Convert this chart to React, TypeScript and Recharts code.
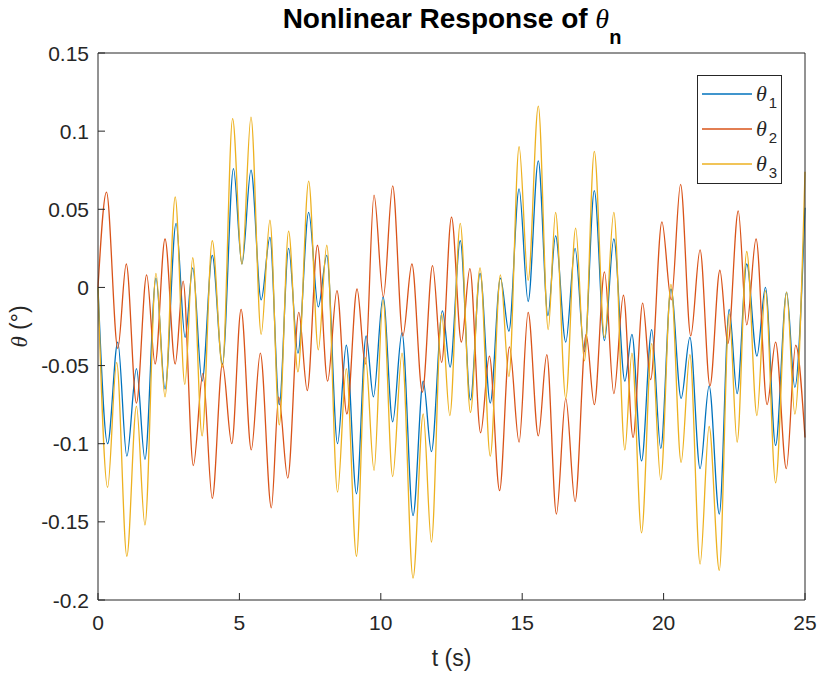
import React from 'react';
import { LineChart, Line, XAxis, YAxis, Legend } from 'recharts';

// ---------- data ----------
const theta1Time = [0,0.34,0.70,1.02,1.36,1.66,2.05,2.37,2.76,3.08,3.35,3.68,4.04,4.40,4.79,5.09,5.41,5.77,6.08,6.41,6.74,7.07,7.45,7.79,8.09,8.47,8.78,9.14,9.48,9.74,10.08,10.42,10.75,11.14,11.50,11.79,12.18,12.45,12.81,13.17,13.51,13.87,14.23,14.53,14.89,15.21,15.57,15.91,16.18,16.54,16.87,17.20,17.55,17.91,18.24,18.63,18.88,19.22,19.58,19.90,20.26,20.62,20.93,21.29,21.61,21.97,22.32,22.60,22.94,23.30,23.60,23.96,24.35,24.64,25.0];
const theta1Value = [0,-0.100,-0.035,-0.108,-0.052,-0.110,0.006,-0.065,0.041,-0.032,0.0125,-0.060,0.0205,-0.049,0.076,0.015,0.075,-0.008,0.032,-0.075,0.025,-0.042,0.048,-0.0125,0.0205,-0.100,-0.037,-0.132,-0.031,-0.070,-0.006,-0.086,-0.029,-0.146,-0.060,-0.105,-0.015,-0.051,0.030,-0.072,0.009,-0.074,0.006,-0.028,0.063,-0.009,0.081,-0.018,0.033,-0.035,0.025,-0.041,0.062,-0.034,0.031,-0.060,-0.030,-0.111,-0.027,-0.103,-0.001,-0.071,-0.032,-0.116,-0.063,-0.145,-0.014,-0.068,0.015,-0.044,0.000,-0.101,-0.003,-0.064,0.051];

const theta2Time = [0,0.30,0.70,1.00,1.36,1.72,2.02,2.37,2.73,3.01,3.37,3.71,4.04,4.40,4.73,5.06,5.42,5.74,6.13,6.39,6.71,7.10,7.40,7.76,8.12,8.45,8.80,9.16,9.45,9.76,10.09,10.42,10.78,11.10,11.47,11.83,12.15,12.50,12.85,13.15,13.53,13.84,14.20,14.55,14.89,15.21,15.57,15.87,16.21,16.54,16.87,17.26,17.55,17.91,18.24,18.58,18.92,19.26,19.54,19.94,20.27,20.60,20.96,21.29,21.64,21.99,22.27,22.64,22.94,23.27,23.66,23.96,24.34,24.67,25.0];
const theta2Value = [0,0.061,-0.039,0.015,-0.074,0.008,-0.049,0.031,-0.049,0.004,-0.114,-0.055,-0.135,-0.049,-0.100,-0.014,-0.104,-0.042,-0.141,-0.070,-0.122,-0.016,-0.066,0.027,-0.060,-0.002,-0.081,-0.001,-0.049,0.059,-0.006,0.065,-0.031,0.015,-0.067,0.014,-0.048,0.045,-0.035,0.012,-0.093,-0.044,-0.130,-0.038,-0.099,-0.016,-0.095,-0.043,-0.145,-0.071,-0.137,-0.030,-0.075,0.010,-0.068,-0.005,-0.096,-0.010,-0.059,0.042,-0.008,0.066,-0.031,0.024,-0.063,0.011,-0.036,0.049,-0.024,0.031,-0.075,-0.035,-0.116,-0.037,-0.096];

const theta3Time = [0,0.34,0.66,1.02,1.36,1.66,2.05,2.37,2.73,3.07,3.35,3.68,4.04,4.40,4.76,5.09,5.41,5.77,6.08,6.41,6.74,7.07,7.45,7.79,8.09,8.47,8.78,9.14,9.46,9.76,10.08,10.42,10.75,11.14,11.50,11.79,12.15,12.44,12.81,13.17,13.51,13.87,14.23,14.53,14.89,15.21,15.57,15.92,16.18,16.54,16.89,17.20,17.55,17.91,18.24,18.63,18.88,19.22,19.58,19.90,20.26,20.62,20.93,21.29,21.61,21.97,22.32,22.60,22.94,23.30,23.60,23.96,24.35,24.64,25.0];
const theta3Value = [0,-0.128,-0.048,-0.172,-0.076,-0.152,0.009,-0.070,0.058,-0.062,0.019,-0.095,0.030,-0.051,0.108,0.015,0.109,-0.030,0.043,-0.088,0.036,-0.054,0.068,-0.040,0.027,-0.131,-0.052,-0.172,-0.045,-0.117,-0.008,-0.121,-0.042,-0.186,-0.081,-0.163,-0.017,-0.082,0.041,-0.080,0.0125,-0.108,0.008,-0.057,0.090,0.0045,0.116,-0.027,0.048,-0.071,0.038,-0.047,0.087,-0.032,0.048,-0.104,-0.042,-0.157,-0.036,-0.123,0.002,-0.112,-0.043,-0.177,-0.089,-0.181,-0.017,-0.099,0.023,-0.082,-0.002,-0.125,-0.003,-0.081,0.074];

const seriesSubscripts = ['1', '2', '3'];
const seriesColors = ['#0072BD', '#D95319', '#EDB120'];
const xTicks = [0, 5, 10, 15, 20, 25];
const yTicks = [-0.2, -0.15, -0.1, -0.05, 0, 0.05, 0.1, 0.15];

const zip = (ts: number[], vs: number[]) => ts.map((t, i) => ({ t, v: vs[i] }));
const seriesData = [
  zip(theta1Time, theta1Value),
  zip(theta2Time, theta2Value),
  zip(theta3Time, theta3Value),
];

// ---------- styles ----------
const AXIS = '#262626';
const FONT = '"Liberation Sans", Arial, Helvetica, sans-serif';
const SERIF = '"Liberation Serif", "Times New Roman", serif';
const TICK_LEN = 7;
const W = 810;
const H = 669;

const LeftTick = (props: any) => {
  const { x, y, payload } = props;
  return (
    <g>
      <line x1={x + 9} x2={x + 9 + TICK_LEN} y1={y} y2={y} stroke={AXIS} />
      <text x={x} y={y} dy={7.5} textAnchor="end" fontSize={21} fill={AXIS} fontFamily={FONT}>
        {String(payload.value)}
      </text>
    </g>
  );
};
const RightTick = (props: any) => {
  const { x, y } = props;
  return <line x1={x} x2={x - TICK_LEN} y1={y} y2={y} stroke={AXIS} />;
};
const BottomTick = (props: any) => {
  const { x, y, payload } = props;
  return (
    <g>
      <line x1={x} x2={x} y1={y} y2={y - TICK_LEN} stroke={AXIS} />
      <text x={x} y={y} dy={29.5} textAnchor="middle" fontSize={21} fill={AXIS} fontFamily={FONT}>
        {String(payload.value)}
      </text>
    </g>
  );
};
const TopTick = (props: any) => {
  const { x, y } = props;
  return <line x1={x} x2={x} y1={y} y2={y + TICK_LEN} stroke={AXIS} />;
};

const renderLegend = (props: any) => {
  const payload = (props && props.payload) || [];
  return (
    <svg width={85} height={109} style={{ display: 'block' }}>
      <rect x={0.5} y={0.5} width={84} height={108} fill="#ffffff" stroke={AXIS} />
      {payload.map((entry: any, i: number) => (
        <g key={i}>
          <line x1={5} x2={55} y1={19 + i * 35} y2={19 + i * 35} stroke={entry.color} strokeWidth={1.3} />
          <text x={59} y={26 + i * 35} fontSize={22} fontStyle="italic" fontFamily={SERIF} fill={AXIS}>
            θ
            <tspan fontSize={15} fontStyle="normal" fontFamily={FONT} dx={2} dy={7}>
              {seriesSubscripts[i]}
            </tspan>
          </text>
        </g>
      ))}
    </svg>
  );
};

export default function App() {
  return (
    <div style={{ position: 'absolute', left: 8, top: 8, width: W, height: H, background: '#ffffff' }}>
      <LineChart width={W} height={H} margin={{ top: 44, right: 12, bottom: 0, left: 0 }}>
        <XAxis
          xAxisId="bottom"
          dataKey="t"
          type="number"
          domain={[0, 25]}
          ticks={xTicks}
          interval={0}
          height={77}
          tickSize={0}
          tickMargin={0}
          tickLine={false}
          axisLine={{ stroke: AXIS }}
          tick={<BottomTick />}
          label={{ value: 't (s)', position: 'insideBottom', offset: 11, fontSize: 23, fill: AXIS, fontFamily: FONT }}
        />
        <XAxis
          xAxisId="top"
          orientation="top"
          dataKey="t"
          type="number"
          domain={[0, 25]}
          ticks={xTicks}
          interval={0}
          height={1}
          tickSize={0}
          tickMargin={0}
          tickLine={false}
          axisLine={{ stroke: AXIS }}
          tick={<TopTick />}
        />
        <YAxis
          yAxisId="left"
          type="number"
          domain={[-0.2, 0.15]}
          ticks={yTicks}
          interval={0}
          width={90}
          tickSize={0}
          tickMargin={9}
          tickLine={false}
          axisLine={{ stroke: AXIS }}
          tick={<LeftTick />}
        />
        <YAxis
          yAxisId="right"
          orientation="right"
          type="number"
          domain={[-0.2, 0.15]}
          ticks={yTicks}
          interval={0}
          width={1}
          tickSize={0}
          tickMargin={0}
          tickLine={false}
          axisLine={{ stroke: AXIS }}
          tick={<RightTick />}
        />
        {seriesData.map((d, i) => (
          <Line
            key={i}
            xAxisId="bottom"
            yAxisId="left"
            data={d}
            dataKey="v"
            name={'θ' + seriesSubscripts[i]}
            type="monotone"
            stroke={seriesColors[i]}
            strokeWidth={1.3}
            dot={false}
            activeDot={false}
            isAnimationActive={false}
          />
        ))}
        <Legend
          layout="vertical"
          align="center"
          verticalAlign="middle"
          content={renderLegend}
          wrapperStyle={{ left: 689, top: 67, width: 85, height: 109 }}
        />
      </LineChart>
      <svg
        width={W}
        height={H}
        style={{ position: 'absolute', left: 0, top: 0, pointerEvents: 'none', overflow: 'visible' }}
      >
        <text x={444} y={20} textAnchor="middle" fontSize={28} fontWeight="bold" fill="#000000" fontFamily={FONT}>
          Nonlinear Response of{' '}
          <tspan fontStyle="italic" fontWeight="normal" fontFamily={SERIF}>θ</tspan>
          <tspan fontSize={20} dy={16}>n</tspan>
        </text>
        <text
          transform="translate(19, 318.5) rotate(-90)"
          textAnchor="middle"
          fontSize={23}
          fill={AXIS}
          fontFamily={FONT}
        >
          <tspan fontStyle="italic" fontFamily={SERIF}>θ</tspan> (°)
        </text>
      </svg>
    </div>
  );
}
